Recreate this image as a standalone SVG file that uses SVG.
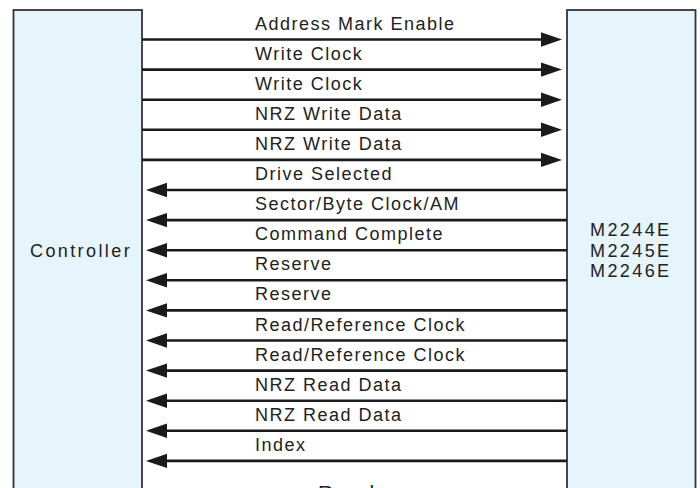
<svg xmlns="http://www.w3.org/2000/svg" width="700" height="488" viewBox="0 0 700 488">
  <style>
    .box { fill: #e6f4fb; stroke: #333; stroke-width: 1.8; }
    .lbl { font-family: "Liberation Sans", Arial, sans-serif; font-size: 18px; letter-spacing: 1.5px; fill: #222; }
    .wide { letter-spacing: 2.4px; }
    .sig { stroke: #1a1a1a; stroke-width: 2.6; fill: none; }
  </style>
  <defs>
    <marker id="ah" viewBox="0 -8 22 16" refX="3" refY="0" markerWidth="22" markerHeight="16" markerUnits="userSpaceOnUse" orient="auto">
      <path d="M0,-7.2 L21,0 L0,7.2 Z" fill="#1a1a1a"/>
    </marker>
  </defs>
  <rect width="700" height="488" fill="#ffffff"/>

  <g id="controller">
    <rect class="box" x="13.5" y="10" width="128.5" height="490"/>
    <text class="lbl wide" x="30" y="257">Controller</text>
  </g>

  <g id="drive">
    <rect class="box" x="567" y="10" width="128.5" height="490"/>
    <text class="lbl wide" x="590" y="236">M2244E</text>
    <text class="lbl wide" x="590" y="256.5">M2245E</text>
    <text class="lbl wide" x="590" y="277">M2246E</text>
  </g>

  <g id="connectors">
    <line class="sig" x1="142" y1="39.5" x2="544" y2="39.5" marker-end="url(#ah)"/>
    <line class="sig" x1="142" y1="69.6" x2="544" y2="69.6" marker-end="url(#ah)"/>
    <line class="sig" x1="142" y1="99.7" x2="544" y2="99.7" marker-end="url(#ah)"/>
    <line class="sig" x1="142" y1="129.8" x2="544" y2="129.8" marker-end="url(#ah)"/>
    <line class="sig" x1="142" y1="159.9" x2="544" y2="159.9" marker-end="url(#ah)"/>
    <line class="sig" x1="567" y1="190" x2="164" y2="190" marker-end="url(#ah)"/>
    <line class="sig" x1="567" y1="220.1" x2="164" y2="220.1" marker-end="url(#ah)"/>
    <line class="sig" x1="567" y1="250.2" x2="164" y2="250.2" marker-end="url(#ah)"/>
    <line class="sig" x1="567" y1="280.3" x2="164" y2="280.3" marker-end="url(#ah)"/>
    <line class="sig" x1="567" y1="310.4" x2="164" y2="310.4" marker-end="url(#ah)"/>
    <line class="sig" x1="567" y1="340.5" x2="164" y2="340.5" marker-end="url(#ah)"/>
    <line class="sig" x1="567" y1="370.6" x2="164" y2="370.6" marker-end="url(#ah)"/>
    <line class="sig" x1="567" y1="400.7" x2="164" y2="400.7" marker-end="url(#ah)"/>
    <line class="sig" x1="567" y1="430.8" x2="164" y2="430.8" marker-end="url(#ah)"/>
    <line class="sig" x1="567" y1="460.9" x2="164" y2="460.9" marker-end="url(#ah)"/>

    <text class="lbl" x="255" y="29.5">Address Mark Enable</text>
    <text class="lbl" x="255" y="59.6">Write Clock</text>
    <text class="lbl" x="255" y="89.7">Write Clock</text>
    <text class="lbl" x="255" y="119.8">NRZ Write Data</text>
    <text class="lbl" x="255" y="149.9">NRZ Write Data</text>
    <text class="lbl" x="255" y="180">Drive Selected</text>
    <text class="lbl" x="255" y="210.1">Sector/Byte Clock/AM</text>
    <text class="lbl" x="255" y="240.2">Command Complete</text>
    <text class="lbl" x="255" y="270.3">Reserve</text>
    <text class="lbl" x="255" y="300.4">Reserve</text>
    <text class="lbl" x="255" y="330.5">Read/Reference Clock</text>
    <text class="lbl" x="255" y="360.6">Read/Reference Clock</text>
    <text class="lbl" x="255" y="390.7">NRZ Read Data</text>
    <text class="lbl" x="255" y="420.8">NRZ Read Data</text>
    <text class="lbl" x="255" y="450.9">Index</text>
  </g>

  <text x="318" y="500" style="font-family: 'Liberation Sans', Arial, sans-serif; font-size: 21px; letter-spacing: 2px; fill: #222;">Read</text>
</svg>
